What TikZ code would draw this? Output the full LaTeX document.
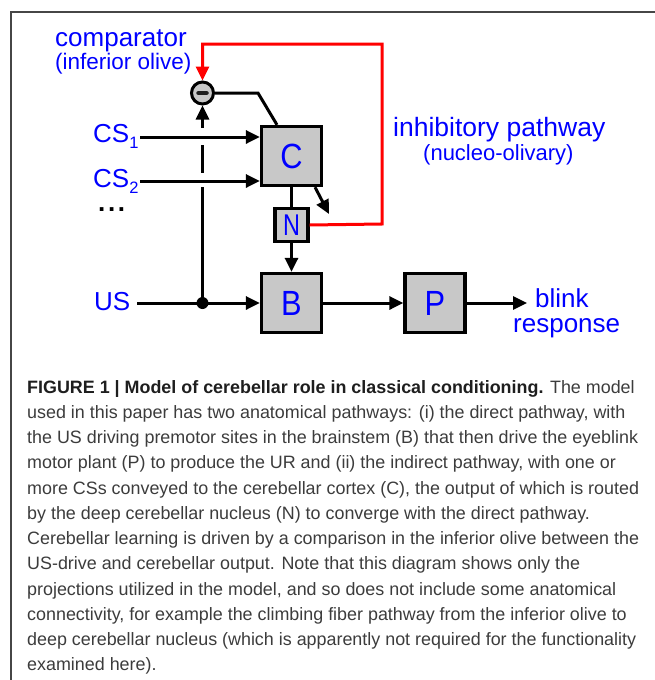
\documentclass[tikz,border=0pt]{standalone}
\usepackage{fontspec}
\setmainfont{Liberation Sans}
\usetikzlibrary{arrows.meta}
\definecolor{boxgrey}{RGB}{200,200,200}
\definecolor{capgrey}{RGB}{60,60,60}
\definecolor{capbold}{RGB}{30,30,30}
\definecolor{pureblue}{RGB}{0,0,255}
\definecolor{purered}{RGB}{255,0,0}
\definecolor{framegrey}{RGB}{70,70,70}
\newcommand{\fsz}[1]{\fontsize{#1}{#1}\selectfont}
\newcommand{\narrowtxt}[1]{\scalebox{0.88}[1]{#1}}
\begin{document}
\begin{tikzpicture}[x=1pt,y=-1pt,
  blockbox/.style={draw, line width=3.3pt, fill=boxgrey, inner sep=0pt,
    minimum width=60pt, minimum height=59pt, text=pureblue, font=\fsz{35}},
  lbl/.style={text=pureblue, inner sep=0pt, anchor=base west},
  conn/.style={line width=3pt},
  arr/.style={conn, -{Triangle[length=14pt,width=13pt]}},
  captext/.style={text=capgrey, inner sep=0pt, anchor=base west, font=\fsz{17.9}}]
\useasboundingbox (0,0) rectangle (655,680);
% frame
\draw[line width=1.3pt, framegrey] (11,680) -- (11,12) -- (655,12);

% blocks
\node[blockbox] (C) at (291.5,156) {\narrowtxt{C}};
\node[blockbox, minimum width=33pt, minimum height=33pt, font=\fsz{30}] (N) at (291.5,225) {\scalebox{0.78}[1]{N}};
\node[blockbox] (B) at (291.5,303) {\narrowtxt{B}};
\node[blockbox] (P) at (435,303) {\narrowtxt{P}};

% comparator
\node[circle, draw, line width=3pt, fill=boxgrey, minimum size=22pt, inner sep=0pt] (cmp) at (202.5,93) {};
\draw[line width=4.5pt, line cap=round, capbold] ([xshift=-4pt]cmp.center) -- ([xshift=4pt]cmp.center);

% labels
\node[lbl, font=\fsz{26}] (comp) at (55,46) {comparator};
\node[lbl, font=\fsz{22.5}] (olive) at (55,69.5) {(inferior olive)};
\node[lbl, font=\fsz{26.5}] (inhib) at (393,136) {inhibitory pathway};
\node[lbl, font=\fsz{22}] (nucleo) at (423,160) {(nucleo-olivary)};
\node[lbl, font=\fsz{26}] (cs1) at (93,142) {CS\raisebox{-6pt}{\fsz{16.5}1}};
\node[lbl, font=\fsz{26}] (cs2) at (93,187) {CS\raisebox{-6pt}{\fsz{16.5}2}};
\node[lbl, font=\fsz{26}\bfseries, text=black] (dots) at (98,211) {.\kern2.6pt.\kern2.6pt.};
\node[lbl, font=\fsz{26}] (us) at (94,310) {US};
\node[lbl, font=\fsz{26}] (blink) at (535,307) {blink};
\node[lbl, font=\fsz{26}] (resp) at (513,332) {response};

% US input and branch
\coordinate (uss) at (137,303);
\node[circle, fill=black, minimum size=12pt, inner sep=0pt] (dot) at (202.5,303) {};
\draw[conn] (uss) -- (dot.center);
\draw[arr] (dot.center) -- (B.west);
\draw[arr] (dot.center) -- (cmp.south);
% crossing gaps
\fill[white] (197,128) rectangle (208,145);
\fill[white] (197,173) rectangle (208,187);

% CS inputs
\coordinate (cs1s) at (140,137);
\coordinate (cs2s) at (140,181);
\draw[arr] (cs1s) -- (cs1s -| C.west);
\draw[arr] (cs2s) -- (cs2s -| C.west);

% comparator to C
\coordinate (k1) at (258,93);
\draw[conn] (cmp.east) -- (k1) -- ([xshift=-14.5pt]C.north);

% C to N, diagonal output, N to B
\draw[conn] (C.south) -- (N.north);
\coordinate (diagend) at (329,214);
\draw[arr] ([xshift=23.5pt]C.south) -- (diagend);
\draw[arr] (N.south) -- (B.north);

% B to P, P to blink
\draw[arr] (B.east) -- (P.west);
\coordinate (blinkend) at (527,303);
\draw[arr] (P.east) -- (blinkend);

% inhibitory pathway (red)
\coordinate (r1) at (382,224);
\coordinate (r2) at (382,44);
\coordinate (r3) at (202.5,44);
\draw[arr, purered] (N.east) -- (r1) -- (r2) -- (r3) -- (cmp.north);

% caption
\node[captext] (cap1) at (27,393) {{\color{capbold}\bfseries FIGURE 1 | Model of cerebellar role in classical conditioning.} The model};
\node[captext] (cap2) at (27,418.25) {used in this paper has two anatomical pathways: (i) the direct pathway, with};
\node[captext] (cap3) at (27,443.5) {the US driving premotor sites in the brainstem (B) that then drive the eyeblink};
\node[captext] (cap4) at (27,468.75) {motor plant (P) to produce the UR and (ii) the indirect pathway, with one or};
\node[captext] (cap5) at (27,494) {more CSs conveyed to the cerebellar cortex (C), the output of which is routed};
\node[captext] (cap6) at (27,519.25) {by the deep cerebellar nucleus (N) to converge with the direct pathway.};
\node[captext] (cap7) at (27,544.5) {Cerebellar learning is driven by a comparison in the inferior olive between the};
\node[captext] (cap8) at (27,569.75) {US-drive and cerebellar output. Note that this diagram shows only the};
\node[captext] (cap9) at (27,595) {projections utilized in the model, and so does not include some anatomical};
\node[captext] (cap10) at (27,620.25) {connectivity, for example the climbing fiber pathway from the inferior olive to};
\node[captext] (cap11) at (27,645.5) {deep cerebellar nucleus (which is apparently not required for the functionality};
\node[captext] (cap12) at (27,670.75) {examined here).};
\end{tikzpicture}
\end{document}
